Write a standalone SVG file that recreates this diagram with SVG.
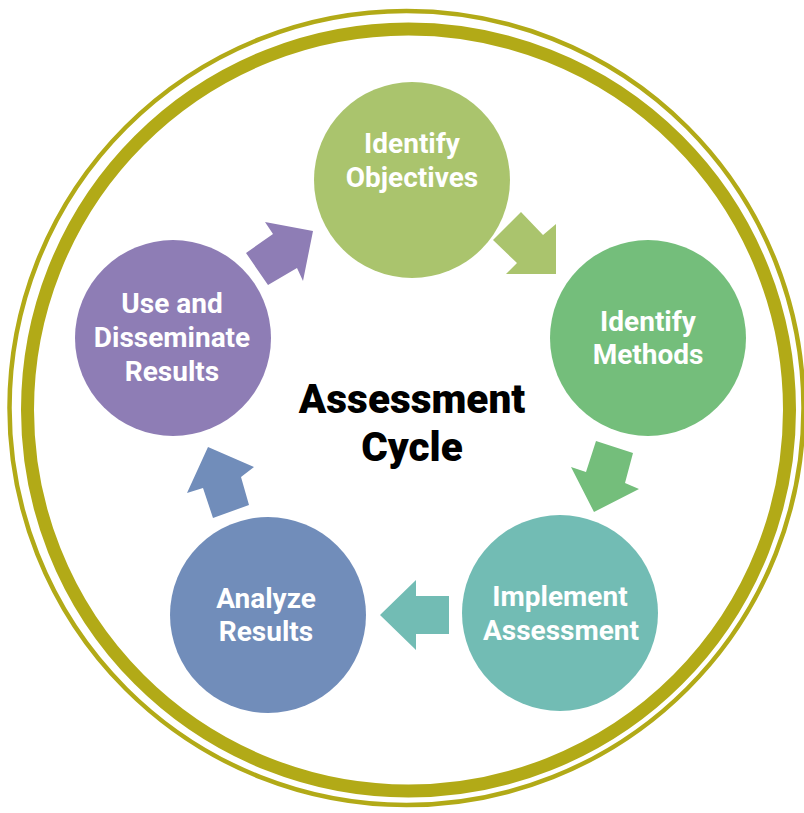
<svg xmlns="http://www.w3.org/2000/svg" width="804" height="813" viewBox="0 0 804 813">
<style>
.ring{fill:none;stroke:#B2AA17}
.lbl{font-family:Roboto,"Liberation Sans",sans-serif;font-weight:700;font-size:28px;fill:#FFFFFF;text-anchor:middle}
.title{font-family:Roboto,"Liberation Sans",sans-serif;font-weight:900;font-size:40.5px;fill:#000000;text-anchor:middle}
</style>
<rect width="804" height="813" fill="#FFFFFF"/>
<g id="frame">
<circle class="ring" cx="406.5" cy="408" r="397" stroke-width="4.5"/>
<circle class="ring" cx="408.5" cy="410" r="381" stroke-width="13"/>
</g>
<g id="connectors">
<polygon fill="#AAC46D" points="493,240 521,212 543,235 556,224 556,274 506,274 517,263"/>
<polygon fill="#74BE7B" points="596,441 633,453 625,483 639,489 594,512 571,467 586,472"/>
<polygon fill="#72BCB4" points="449,596 449,634 416,634 416,650 380,615 416,580 416,596"/>
<polygon fill="#718DBA" points="208,447 254,467 241,477 249,505 213,518 203,488 187,493"/>
<polygon fill="#8E7DB5" points="265,222 313,231 303,281 297,268 268,285 246,253 273,234"/>
</g>
<g id="identify-objectives">
<circle cx="412" cy="180" r="98" fill="#AAC46D"/>
<text class="lbl" x="412" y="153">Identify</text>
<text class="lbl" x="412" y="187">Objectives</text>
</g>
<g id="identify-methods">
<circle cx="648" cy="338" r="98" fill="#74BE7B"/>
<text class="lbl" x="648" y="331">Identify</text>
<text class="lbl" x="648" y="364">Methods</text>
</g>
<g id="implement-assessment">
<circle cx="560" cy="613" r="98" fill="#72BCB4"/>
<text class="lbl" x="560" y="606">Implement</text>
<text class="lbl" x="561" y="640">Assessment</text>
</g>
<g id="analyze-results">
<circle cx="268" cy="615" r="98" fill="#718DBA"/>
<text class="lbl" x="266" y="608">Analyze</text>
<text class="lbl" x="266" y="641">Results</text>
</g>
<g id="use-disseminate">
<circle cx="173" cy="338" r="98" fill="#8E7DB5"/>
<text class="lbl" x="172" y="313">Use and</text>
<text class="lbl" x="172" y="347">Disseminate</text>
<text class="lbl" x="172" y="381">Results</text>
</g>
<g id="center-title">
<text class="title" x="412" y="413">Assessment</text>
<text class="title" x="412" y="461">Cycle</text>
</g>
</svg>
